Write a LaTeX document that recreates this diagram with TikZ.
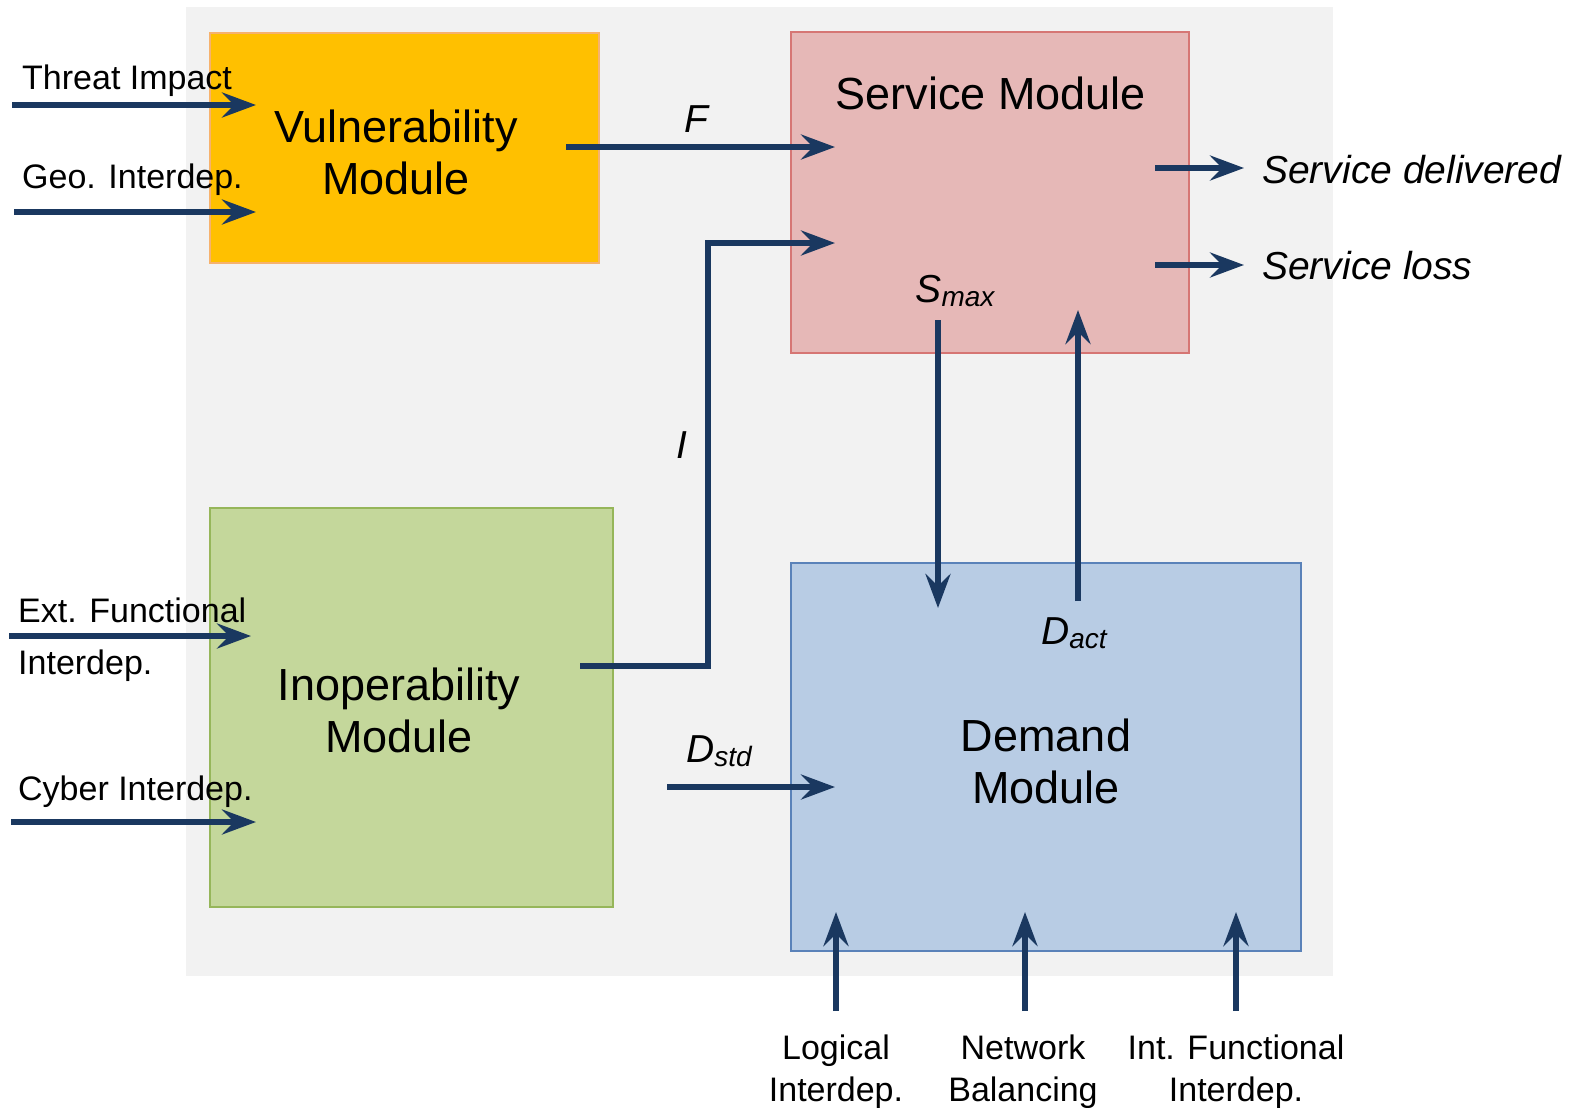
\documentclass[tikz,border=0pt]{standalone}
\usepackage{fontspec}
\setmainfont{Liberation Sans}
\usetikzlibrary{arrows.meta}
\definecolor{navy}{RGB}{26,56,96}
\definecolor{bggray}{RGB}{242,242,242}
\definecolor{vfill}{RGB}{255,192,0}
\definecolor{vdraw}{RGB}{246,178,110}
\definecolor{sfill}{RGB}{230,184,183}
\definecolor{sdraw}{RGB}{214,118,116}
\definecolor{ifill}{RGB}{196,215,155}
\definecolor{idraw}{RGB}{150,182,90}
\definecolor{dfill}{RGB}{184,204,228}
\definecolor{ddraw}{RGB}{90,130,185}
\tikzset{
  module/.style={draw, line width=1.2pt, anchor=north west, inner sep=0pt, outer sep=0pt},
  flow/.style={draw=navy, line width=6pt, line join=miter, -{Stealth[length=34pt,width=25pt,inset=12pt]}},
  bigtxt/.style={font=\fontsize{45}{52}\selectfont, align=center, anchor=base, inner sep=0pt},
  smalltxt/.style={font=\fontsize{34}{42}\selectfont, inner sep=0pt},
  outtxt/.style={font=\fontsize{39}{44}\selectfont\itshape, anchor=base west, inner sep=0pt},
  vartxt/.style={font=\fontsize{39}{44}\selectfont\itshape, anchor=base, inner sep=0pt},
}
\newcommand{\subtxt}[1]{\raisebox{-0.12em}{\fontsize{28}{30}\selectfont #1}}
\begin{document}
\begin{tikzpicture}[x=1pt,y=-1pt]
\useasboundingbox (0,0) rectangle (1577,1108);
\fill[bggray] (186,7) rectangle (1333,976);

% modules
\node[module, fill=vfill, draw=vdraw, minimum width=389pt, minimum height=230pt] (vul) at (210,33) {};
\node[module, fill=sfill, draw=sdraw, minimum width=398pt, minimum height=321pt] (srv) at (791,32) {};
\node[module, fill=ifill, draw=idraw, minimum width=403pt, minimum height=399pt] (ino) at (210,508) {};
\node[module, fill=dfill, draw=ddraw, minimum width=510pt, minimum height=388pt] (dem) at (791,563) {};

% module titles (base = baseline of last line)
\node[bigtxt] (vult) at (396,194) {Vulnerability\\Module};
\node[bigtxt] (srvt) at (991,109) {Service Module};
\node[bigtxt] (inot) at (399,752) {Inoperability\\Module};
\node[bigtxt] (demt) at (1046,803) {Demand\\Module};

% coordinates for connector ends
\coordinate (thS) at (12,105);   \coordinate (thE) at (256,105);
\coordinate (geS) at (14,212);   \coordinate (geE) at (256,212);
\coordinate (fS) at (566,147);   \coordinate (fE) at (835,147);
\coordinate (iS) at (580,666);   \coordinate (iE) at (835,243);
\coordinate (sdS) at (1155,168); \coordinate (sdE) at (1244,168);
\coordinate (slS) at (1155,265); \coordinate (slE) at (1244,265);
\coordinate (smS) at (938,320);  \coordinate (smE) at (938,608);
\coordinate (daS) at (1078,601); \coordinate (daE) at (1078,310);
\coordinate (exS) at (9,636);    \coordinate (exE) at (251,636);
\coordinate (cyS) at (11,822);   \coordinate (cyE) at (256,822);
\coordinate (dsS) at (667,787);  \coordinate (dsE) at (835,787);
\coordinate (lgS) at (836,1011); \coordinate (lgE) at (836,912);
\coordinate (nbS) at (1025,1011);\coordinate (nbE) at (1025,912);
\coordinate (ifS) at (1236,1011);\coordinate (ifE) at (1236,912);

% connectors
\draw[flow] (thS) -- (thE);
\draw[flow] (geS) -- (geE);
\draw[flow] (fS) -- (fE);
\draw[flow] (iS) -- (708,666) -- (708,243) -- (iE);
\draw[flow] (sdS) -- (sdE);
\draw[flow] (slS) -- (slE);
\draw[flow] (smS) -- (smE);
\draw[flow] (daS) -- (daE);
\draw[flow] (exS) -- (exE);
\draw[flow] (cyS) -- (cyE);
\draw[flow] (dsS) -- (dsE);
\draw[flow] (lgS) -- (lgE);
\draw[flow] (nbS) -- (nbE);
\draw[flow] (ifS) -- (ifE);

% input labels
\node[smalltxt, anchor=base west] (thL) at (22,89) {Threat Impact};
\node[smalltxt, anchor=base west] (geL) at (22,188) {Geo. Interdep.};
\node[smalltxt, anchor=base west] (exL) at (18,622) {Ext. Functional};
\node[smalltxt, anchor=base west] (exL2) at (18,674) {Interdep.};
\node[smalltxt, anchor=base west] (cyL) at (18,800) {Cyber Interdep.};
\node[smalltxt, align=center, anchor=base] (lgL) at (836,1101) {Logical\\Interdep.};
\node[smalltxt, align=center, anchor=base] (nbL) at (1023,1101) {Network\\Balancing};
\node[smalltxt, align=center, anchor=base] (ifL) at (1236,1101) {Int. Functional\\Interdep.};

% output labels
\node[outtxt] (sdL) at (1262,183) {Service delivered};
\node[outtxt] (slL) at (1262,279) {Service loss};

% variable labels
\node[vartxt] (fL) at (696,132) {F};
\node[vartxt] (iL) at (682,458) {I};
\node[vartxt] (smL) at (955,302) {S\subtxt{max}};
\node[vartxt] (daL) at (1074,644) {D\subtxt{act}};
\node[vartxt] (dsL) at (719,762) {D\subtxt{std}};
\end{tikzpicture}
\end{document}
